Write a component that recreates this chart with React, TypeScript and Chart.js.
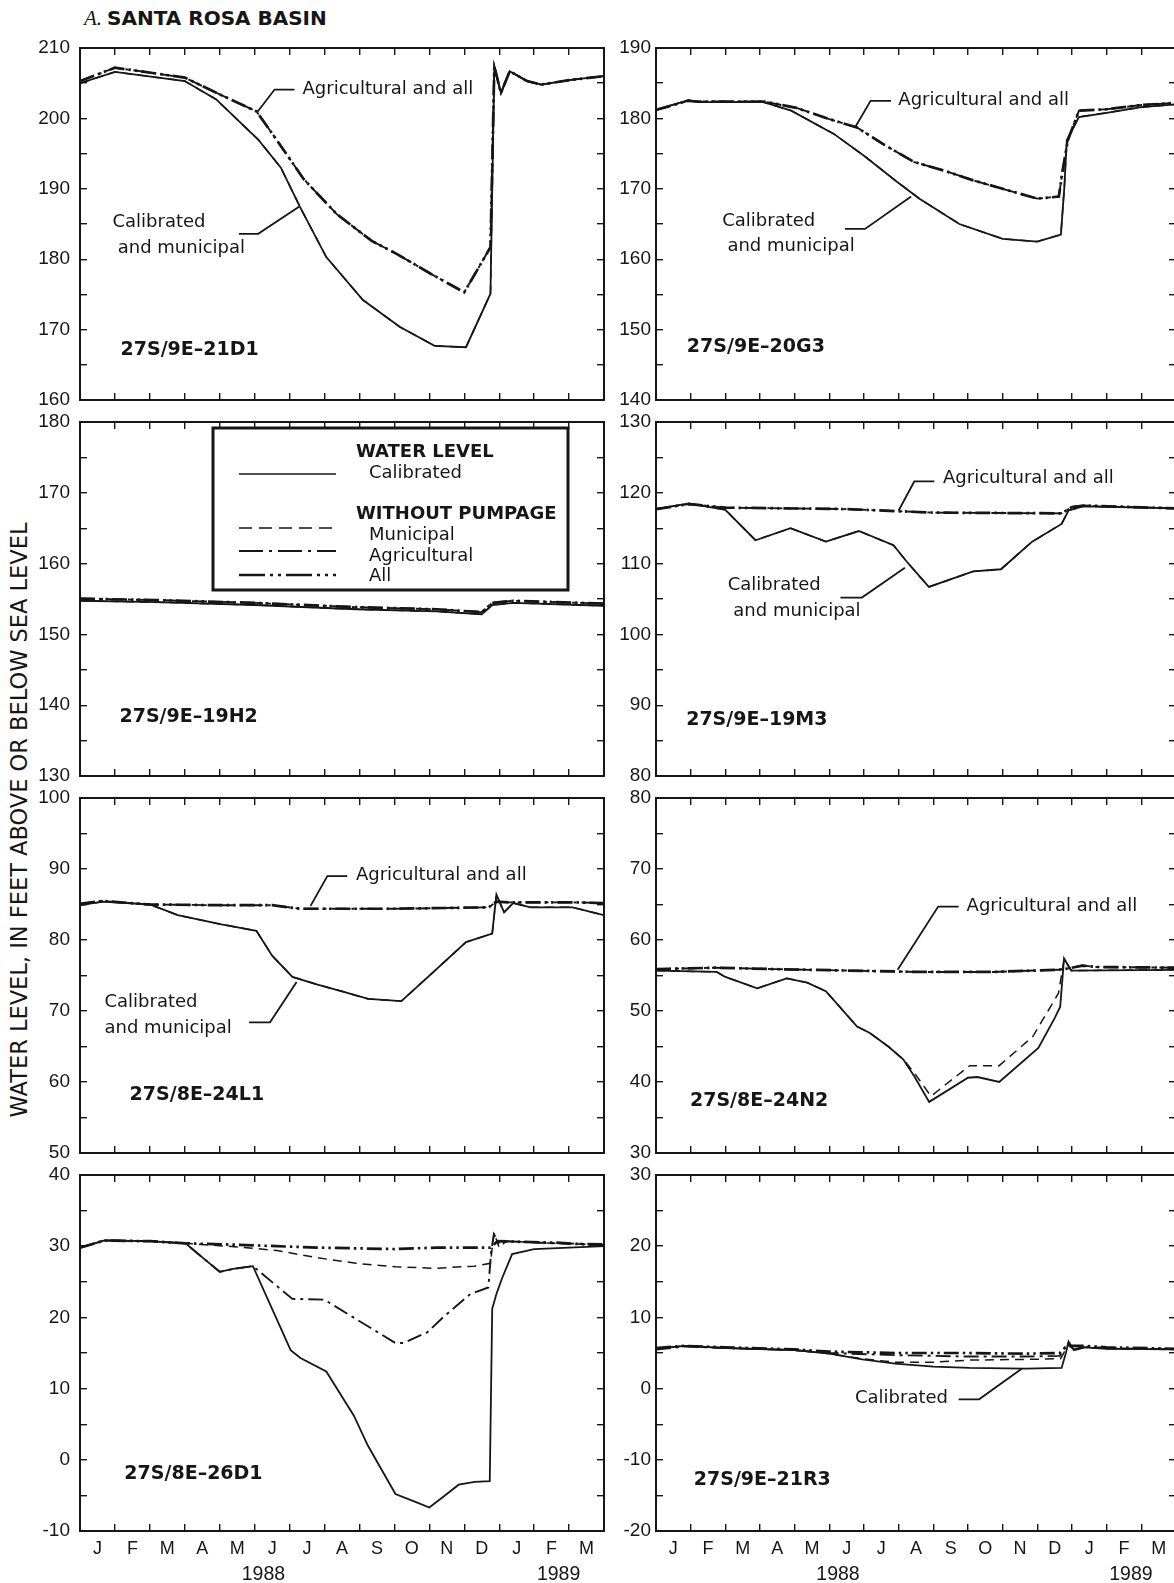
import React, { useEffect, useRef } from 'react';
import { Chart, registerables } from 'chart.js';

Chart.register(...registerables);

const INK = '#161616';
const SANS = '"DejaVu Sans", "Liberation Sans", sans-serif';
const NUM = '"Liberation Sans", Arial, sans-serif';

// ---------- axis labels ----------
const MONTHS = ['J', 'F', 'M', 'A', 'M', 'J', 'J', 'A', 'S', 'O', 'N', 'D', 'J', 'F', 'M'];
const MONTH_EDGES = [0, 1, 2, 3, 4, 5, 6, 7, 8, 9, 10, 11, 12, 13, 14, 15];
const YEARS = ['1988', '1989'];
const YEAR_AT = [5.25, 13.7];

// ---------- data (x = months since 1 Jan 1988) ----------
// 27S/9E-21D1
const T1_CAL = [0, 1, 3, 3.9, 5.1, 5.75, 6.3, 7.05, 8.1, 9.15, 10.15, 11.05, 11.75, 11.86, 12.05, 12.3, 12.8, 13.2, 14.1, 15];
const V1_CAL = [205.0, 206.6, 205.3, 202.7, 197.0, 193.0, 187.4, 180.3, 174.2, 170.4, 167.7, 167.5, 175.1, 207.4, 203.6, 206.7, 205.3, 204.8, 205.5, 206.0];
const T1_AG = [0, 1, 3, 4, 5.05, 5.65, 6.4, 7.35, 8.35, 9.05, 10.05, 11.0, 11.75, 11.86, 12.05, 12.3, 12.8, 13.2, 14.1, 15];
const V1_AG = [205.3, 207.2, 205.8, 203.4, 201.0, 196.8, 191.4, 186.4, 182.6, 180.8, 177.9, 175.3, 181.7, 207.4, 203.6, 206.7, 205.3, 204.8, 205.5, 206.0];

// 27S/9E-20G3
const T2_CAL = [0, 0.93, 1.2, 3.1, 3.9, 5.13, 6.0, 6.95, 7.6, 8.75, 10.0, 11.0, 11.68, 11.78, 11.85, 12.2, 13.0, 14.0, 15];
const V2_CAL = [181.2, 182.6, 182.3, 182.3, 181.1, 177.8, 174.7, 171.0, 168.6, 165.0, 162.9, 162.5, 163.5, 170.3, 176.9, 180.2, 180.8, 181.6, 182.0];
const T2_AG = [0, 0.93, 1.2, 3.1, 4.05, 5.0, 5.8, 6.6, 7.45, 8.3, 9.15, 10.0, 11.0, 11.62, 11.73, 11.88, 12.2, 13.0, 14.0, 15];
const V2_AG = [181.2, 182.5, 182.4, 182.4, 181.5, 179.9, 178.7, 176.2, 173.8, 172.6, 171.2, 170.0, 168.6, 168.9, 172.6, 176.9, 181.1, 181.3, 181.9, 182.2];

// 27S/9E-19H2
const T3 = [0, 2.2, 5.0, 7.9, 10.2, 11.5, 11.8, 12.4, 15];
const V3_CAL = [154.75, 154.55, 154.15, 153.55, 153.25, 152.85, 154.15, 154.45, 154.05];
const V3_AG = [155.05, 154.85, 154.45, 153.85, 153.55, 153.15, 154.45, 154.75, 154.35];

// 27S/9E-19M3
const T4_CAL = [0, 0.95, 2.0, 2.87, 3.88, 4.9, 5.85, 6.85, 7.23, 7.87, 9.15, 9.95, 10.85, 11.7, 11.9, 12.35, 15];
const V4_CAL = [117.7, 118.5, 117.6, 113.3, 115.0, 113.1, 114.6, 112.6, 110.3, 106.7, 108.9, 109.2, 113.1, 115.6, 117.5, 118.1, 117.8];
const T4_AG = [0, 0.95, 2.0, 5.5, 8.0, 11.7, 12.0, 12.35, 15];
const V4_AG = [117.7, 118.4, 117.9, 117.7, 117.2, 117.1, 118.0, 118.2, 117.8];

// 27S/8E-24L1
const T5_CAL = [0, 0.65, 2.0, 2.8, 4.05, 5.05, 5.5, 6.08, 6.75, 7.55, 8.25, 9.2, 10.05, 11.05, 11.8, 11.92, 12.14, 12.4, 12.9, 14.1, 15];
const V5_CAL = [84.9, 85.4, 85.0, 83.5, 82.2, 81.3, 77.8, 74.8, 73.8, 72.7, 71.7, 71.4, 75.2, 79.7, 80.9, 86.4, 83.9, 85.2, 84.6, 84.6, 83.5];
const T5_AG = [0, 0.65, 2.0, 4.0, 5.5, 6.3, 9.0, 11.7, 11.92, 12.3, 14.1, 15];
const V5_AG = [85.1, 85.5, 85.0, 84.9, 84.9, 84.4, 84.4, 84.6, 85.4, 85.3, 85.3, 85.2];

// 27S/8E-24N2
const T6_CAL = [0, 1.75, 2.0, 2.92, 3.77, 4.36, 4.9, 5.8, 6.17, 6.7, 7.13, 7.45, 7.88, 9.0, 9.27, 9.9, 11.03, 11.5, 11.66, 11.77, 11.98, 15];
const V6_CAL = [55.7, 55.5, 54.8, 53.2, 54.6, 54.0, 52.8, 47.8, 46.9, 45.0, 43.2, 40.8, 37.2, 40.6, 40.7, 40.0, 44.8, 49.0, 50.6, 57.4, 55.7, 55.8];
const T6_MUN = [0, 1.75, 2.0, 2.92, 3.77, 4.36, 4.9, 5.8, 6.17, 6.7, 7.13, 7.45, 7.93, 9.05, 9.9, 10.87, 11.61, 11.77, 11.98, 15];
const V6_MUN = [55.7, 55.5, 54.8, 53.2, 54.6, 54.0, 52.8, 47.8, 46.9, 45.0, 43.2, 41.3, 38.0, 42.3, 42.3, 46.4, 52.5, 57.2, 55.7, 55.8];
const T6_AG = [0, 1.7, 3.4, 5.5, 7.6, 9.7, 11.6, 11.9, 12.3, 12.7, 15];
const V6_AG = [55.9, 56.1, 55.9, 55.7, 55.5, 55.5, 55.8, 56.0, 56.4, 56.2, 56.1];

// 27S/8E-26D1
const T7_CAL = [0, 0.7, 2.0, 3.02, 4.0, 4.38, 4.95, 6.03, 6.31, 7.05, 7.84, 8.24, 9.03, 9.6, 10.0, 10.4, 10.84, 11.3, 11.73, 11.8, 11.92, 12.09, 12.37, 13.0, 14.0, 15];
const V7_CAL = [29.8, 30.8, 30.7, 30.4, 26.4, 26.8, 27.2, 15.4, 14.3, 12.4, 6.2, 2.0, -4.8, -5.9, -6.7, -5.2, -3.5, -3.1, -3.0, 21.2, 23.3, 25.6, 28.9, 29.6, 29.8, 30.0];
const T7_MUN = [0, 0.7, 2.0, 3.02, 4.5, 5.63, 6.76, 7.9, 9.03, 10.16, 11.3, 11.75, 11.85, 12.0, 12.2, 13.6, 15];
const V7_MUN = [29.8, 30.8, 30.7, 30.4, 29.9, 29.4, 28.4, 27.6, 27.1, 26.9, 27.2, 27.6, 31.9, 29.8, 30.7, 30.4, 30.2];
const T7_AG = [0, 0.7, 2.0, 3.02, 4.0, 4.38, 4.95, 6.08, 6.99, 8.46, 9.03, 9.26, 9.94, 10.39, 11.18, 11.69, 11.77, 11.85, 12.0, 12.2, 13.6, 15];
const V7_AG = [29.8, 30.8, 30.7, 30.4, 26.4, 26.8, 27.2, 22.6, 22.5, 18.1, 16.4, 16.4, 17.9, 20.0, 23.3, 24.2, 29.3, 31.7, 30.3, 30.7, 30.4, 30.3];
const T7_ALL = [0, 0.7, 2.0, 3.02, 4.5, 6.8, 9.0, 10.2, 11.75, 11.95, 13.6, 15];
const V7_ALL = [29.8, 30.8, 30.7, 30.4, 30.2, 29.8, 29.6, 29.8, 29.8, 30.7, 30.5, 30.1];

// 27S/9E-21R3
const T8_CAL = [0, 0.82, 2.0, 4.0, 5.0, 5.95, 6.9, 8.0, 9.05, 10.65, 11.7, 11.83, 11.9, 12.06, 12.36, 13.0, 15];
const V8_CAL = [5.6, 6.0, 5.7, 5.4, 4.9, 4.1, 3.5, 3.1, 2.9, 2.8, 2.9, 5.1, 6.6, 5.4, 5.8, 5.6, 5.5];
const T8_MUN = [0, 0.82, 2.0, 4.0, 5.0, 5.95, 6.9, 8.0, 9.05, 10.65, 11.67, 11.83, 11.9, 12.06, 12.36, 13.0, 15];
const V8_MUN = [5.6, 6.0, 5.7, 5.4, 4.9, 4.2, 3.7, 3.7, 4.0, 4.1, 4.2, 5.6, 6.4, 5.4, 5.8, 5.6, 5.5];
const T8_AG = [0, 0.82, 2.0, 4.0, 5.0, 6.9, 8.0, 9.05, 10.65, 11.65, 11.85, 12.06, 12.36, 13.0, 15];
const V8_AG = [5.5, 5.9, 5.7, 5.4, 5.0, 4.7, 4.6, 4.5, 4.5, 4.6, 6.3, 5.5, 5.9, 5.7, 5.5];
const T8_ALL = [0, 0.82, 2.0, 4.0, 5.0, 6.9, 9.0, 10.65, 11.65, 11.85, 12.36, 13.0, 15];
const V8_ALL = [5.7, 6.0, 5.8, 5.5, 5.2, 5.0, 5.0, 4.9, 5.0, 6.0, 6.0, 5.8, 5.6];

// ---------- layout ----------
const COLS = [
  { plotL: 80, plotR: 604, gap: 10 },
  { plotL: 656, plotR: 1176, gap: 5 },
];
const ROWS = [[48, 400], [422, 776], [798, 1153], [1175, 1531]];

type Kind = 'cal' | 'mun' | 'ag' | 'all';
const STYLE: Record<Kind, { w: number; dash: number[] }> = {
  cal: { w: 1.8, dash: [] },
  mun: { w: 1.5, dash: [9, 6] },
  ag: { w: 1.9, dash: [15, 5, 3, 5] },
  all: { w: 2.7, dash: [15, 4, 2.5, 4, 2.5, 4] },
};

type Series = { t: number[]; v: number[]; kind: Kind };
type Txt = { s: string; x: number; y: number };
type PanelCfg = {
  id: string; row: number; col: number; yMin: number; yMax: number;
  labelAt: [number, number];
  series: Series[]; texts: Txt[]; leaders: [number, number][][]; legend?: boolean;
};

const PANELS: PanelCfg[] = [
  {
    id: '27S/9E\u201321D1', row: 0, col: 0, yMin: 160, yMax: 210, labelAt: [1.16, 167.1],
    series: [
      { t: T1_CAL, v: V1_CAL, kind: 'cal' }, { t: T1_CAL, v: V1_CAL, kind: 'mun' },
      { t: T1_AG, v: V1_AG, kind: 'ag' }, { t: T1_AG, v: V1_AG, kind: 'all' },
    ],
    texts: [
      { s: 'Agricultural and all', x: 6.37, y: 204.1 },
      { s: 'Calibrated', x: 0.93, y: 185.2 },
      { s: 'and municipal', x: 1.08, y: 181.5 },
    ],
    leaders: [
      [[6.14, 204.1], [5.57, 204.1], [5.06, 200.8]],
      [[4.55, 183.6], [5.1, 183.6], [6.28, 187.5]],
    ],
  },
  {
    id: '27S/9E\u201320G3', row: 0, col: 1, yMin: 140, yMax: 190, labelAt: [0.89, 147.5],
    series: [
      { t: T2_CAL, v: V2_CAL, kind: 'cal' }, { t: T2_CAL, v: V2_CAL, kind: 'mun' },
      { t: T2_AG, v: V2_AG, kind: 'ag' }, { t: T2_AG, v: V2_AG, kind: 'all' },
    ],
    texts: [
      { s: 'Agricultural and all', x: 6.99, y: 182.5 },
      { s: 'Calibrated', x: 1.91, y: 165.4 },
      { s: 'and municipal', x: 2.06, y: 161.8 },
    ],
    leaders: [
      [[6.78, 182.5], [6.19, 182.5], [5.74, 178.7]],
      [[5.45, 164.3], [6.03, 164.3], [7.36, 168.9]],
    ],
  },
  {
    id: '27S/9E\u201319H2', row: 1, col: 0, yMin: 130, yMax: 180, labelAt: [1.13, 138.3],
    series: [
      { t: T3, v: V3_CAL, kind: 'cal' }, { t: T3, v: V3_CAL, kind: 'mun' },
      { t: T3, v: V3_AG, kind: 'ag' }, { t: T3, v: V3_AG, kind: 'all' },
    ],
    texts: [], leaders: [], legend: true,
  },
  {
    id: '27S/9E\u201319M3', row: 1, col: 1, yMin: 80, yMax: 130, labelAt: [0.87, 87.9],
    series: [
      { t: T4_CAL, v: V4_CAL, kind: 'cal' }, { t: T4_CAL, v: V4_CAL, kind: 'mun' },
      { t: T4_AG, v: V4_AG, kind: 'ag' }, { t: T4_AG, v: V4_AG, kind: 'all' },
    ],
    texts: [
      { s: 'Agricultural and all', x: 8.28, y: 122.0 },
      { s: 'Calibrated', x: 2.07, y: 106.9 },
      { s: 'and municipal', x: 2.23, y: 103.3 },
    ],
    leaders: [
      [[8.03, 121.6], [7.45, 121.6], [7.0, 117.5]],
      [[5.32, 105.2], [5.94, 105.2], [7.18, 109.4]],
    ],
  },
  {
    id: '27S/8E\u201324L1', row: 2, col: 0, yMin: 50, yMax: 100, labelAt: [1.42, 58.2],
    series: [
      { t: T5_CAL, v: V5_CAL, kind: 'cal' }, { t: T5_CAL, v: V5_CAL, kind: 'mun' },
      { t: T5_AG, v: V5_AG, kind: 'ag' }, { t: T5_AG, v: V5_AG, kind: 'all' },
    ],
    texts: [
      { s: 'Agricultural and all', x: 7.9, y: 89.1 },
      { s: 'Calibrated', x: 0.7, y: 71.2 },
      { s: 'and municipal', x: 0.7, y: 67.5 },
    ],
    leaders: [
      [[7.65, 89.0], [7.08, 89.0], [6.6, 84.8]],
      [[4.84, 68.4], [5.44, 68.4], [6.2, 74.1]],
    ],
  },
  {
    id: '27S/8E\u201324N2', row: 2, col: 1, yMin: 30, yMax: 80, labelAt: [0.98, 37.3],
    series: [
      { t: T6_CAL, v: V6_CAL, kind: 'cal' }, { t: T6_MUN, v: V6_MUN, kind: 'mun' },
      { t: T6_AG, v: V6_AG, kind: 'ag' }, { t: T6_AG, v: V6_AG, kind: 'all' },
    ],
    texts: [{ s: 'Agricultural and all', x: 8.96, y: 64.7 }],
    leaders: [[[8.73, 64.7], [8.14, 64.7], [6.97, 55.8]]],
  },
  {
    id: '27S/8E\u201326D1', row: 3, col: 0, yMin: -10, yMax: 40, labelAt: [1.27, -2.0],
    series: [
      { t: T7_CAL, v: V7_CAL, kind: 'cal' }, { t: T7_MUN, v: V7_MUN, kind: 'mun' },
      { t: T7_AG, v: V7_AG, kind: 'ag' }, { t: T7_ALL, v: V7_ALL, kind: 'all' },
    ],
    texts: [], leaders: [],
  },
  {
    id: '27S/9E\u201321R3', row: 3, col: 1, yMin: -20, yMax: 30, labelAt: [1.09, -12.85],
    series: [
      { t: T8_CAL, v: V8_CAL, kind: 'cal' }, { t: T8_MUN, v: V8_MUN, kind: 'mun' },
      { t: T8_AG, v: V8_AG, kind: 'ag' }, { t: T8_ALL, v: V8_ALL, kind: 'all' },
    ],
    texts: [{ s: 'Calibrated', x: 5.74, y: -1.3 }],
    leaders: [[[8.73, -1.5], [9.32, -1.5], [10.55, 2.8]]],
  },
];

function drawLegend(ctx: CanvasRenderingContext2D, ca: { left: number; top: number }) {
  const X = (px: number) => ca.left + (px - 80);
  const Y = (py: number) => ca.top + (py - 422);
  ctx.save();
  ctx.fillStyle = '#fff';
  ctx.fillRect(X(213), Y(428), 355, 162);
  ctx.strokeStyle = INK;
  ctx.lineWidth = 3;
  ctx.setLineDash([]);
  ctx.strokeRect(X(213), Y(428), 355, 162);
  ctx.fillStyle = INK;
  ctx.textBaseline = 'middle';
  ctx.textAlign = 'left';
  ctx.font = `bold 18px ${SANS}`;
  ctx.fillText('WATER LEVEL', X(356), Y(452));
  ctx.fillText('WITHOUT PUMPAGE', X(356), Y(514));
  ctx.font = `18px ${SANS}`;
  ctx.fillText('Calibrated', X(369), Y(473));
  ctx.fillText('Municipal', X(369), Y(535));
  ctx.fillText('Agricultural', X(369), Y(556));
  ctx.fillText('All', X(369), Y(576));
  const sample = (y: number, w: number, dash: number[]) => {
    ctx.lineWidth = w;
    ctx.setLineDash(dash);
    ctx.beginPath();
    ctx.moveTo(X(239), Y(y));
    ctx.lineTo(X(336), Y(y));
    ctx.stroke();
  };
  sample(474, 1.7, []);
  sample(528, 1.5, [13, 7]);
  sample(551, 1.8, [24, 6, 3, 6]);
  sample(575, 2.6, [26, 5, 3, 5, 3, 5]);
  ctx.restore();
}

function Panel({ cfg }: { cfg: PanelCfg }) {
  const ref = useRef<HTMLCanvasElement>(null);
  const col = COLS[cfg.col];
  const [top, bottom] = ROWS[cfg.row];
  const isBottom = cfg.row === 3;
  const padL = 70, padT = 34, padR = 10, padB = isBottom ? 10 : 34;
  const axisBottom = isBottom ? 60 : 0;
  const w = col.plotR - col.plotL + padL + padR;
  const h = bottom - top + padT + axisBottom + padB;

  useEffect(() => {
    const yTicks: { value: number }[] = [];
    for (let v = cfg.yMin; v <= cfg.yMax; v += 5) yTicks.push({ value: v });
    const grid = { drawOnChartArea: false, drawTicks: true, tickLength: -7, color: INK, lineWidth: 1.4 };
    const border = { display: true, color: INK, width: 2 };
    const notes = {
      id: 'notes',
      afterDatasetsDraw(chart: any) {
        const ctx: CanvasRenderingContext2D = chart.ctx;
        const xs = chart.scales.x, ys = chart.scales.y;
        ctx.save();
        ctx.strokeStyle = INK;
        ctx.fillStyle = INK;
        ctx.lineWidth = 1.8;
        ctx.setLineDash([]);
        for (const lead of cfg.leaders) {
          ctx.beginPath();
          lead.forEach(([a, b], i) => {
            const px = xs.getPixelForValue(a), py = ys.getPixelForValue(b);
            if (i === 0) ctx.moveTo(px, py); else ctx.lineTo(px, py);
          });
          ctx.stroke();
        }
        ctx.textBaseline = 'middle';
        ctx.textAlign = 'left';
        ctx.font = `18px ${SANS}`;
        for (const t of cfg.texts) ctx.fillText(t.s, xs.getPixelForValue(t.x), ys.getPixelForValue(t.y));
        ctx.font = `bold 19px ${SANS}`;
        ctx.fillText(cfg.id, xs.getPixelForValue(cfg.labelAt[0]), ys.getPixelForValue(cfg.labelAt[1]));
        if (cfg.legend) drawLegend(ctx, chart.chartArea);
        ctx.restore();
      },
    };
    const chart = new Chart(ref.current as HTMLCanvasElement, {
      type: 'line',
      data: {
        datasets: cfg.series.map((s) => ({
          data: s.t.map((t, i) => ({ x: t, y: s.v[i] })),
          borderColor: INK,
          borderWidth: STYLE[s.kind].w,
          borderDash: STYLE[s.kind].dash,
          pointRadius: 0,
          tension: 0,
          fill: false,
          xAxisID: 'x',
          yAxisID: 'y',
        })),
      },
      options: {
        animation: false,
        responsive: false,
        maintainAspectRatio: false,
        devicePixelRatio: 1,
        events: [],
        layout: { padding: { left: 0, top: padT, right: padR, bottom: padB } },
        plugins: { legend: { display: false }, tooltip: { enabled: false } },
        scales: {
          x: {
            type: 'linear', position: 'bottom', min: 0, max: 15,
            afterBuildTicks: (s: any) => { s.ticks = MONTH_EDGES.map((v) => ({ value: v })); },
            ticks: { display: false },
            grid, border,
            afterFit: (s: any) => { s.height = 0; },
          },
          xTop: {
            type: 'linear', position: 'top', min: 0, max: 15,
            afterBuildTicks: (s: any) => { s.ticks = MONTH_EDGES.map((v) => ({ value: v })); },
            ticks: { display: false },
            grid, border,
            afterFit: (s: any) => { s.height = 0; },
          },
          xMonth: {
            type: 'linear', position: 'bottom', min: 0, max: 15, display: isBottom,
            afterBuildTicks: (s: any) => { s.ticks = MONTHS.map((_m, i) => ({ value: i + 0.5 })); },
            ticks: {
              autoSkip: false, maxRotation: 0, padding: 7, color: INK,
              font: { family: NUM, size: 18 },
              callback: (_v: any, i: number) => MONTHS[i],
            },
            grid: { display: false, drawTicks: false },
            border: { display: false },
            afterFit: (s: any) => { s.height = isBottom ? 26 : 0; },
          },
          xYear: {
            type: 'linear', position: 'bottom', min: 0, max: 15, display: isBottom,
            afterBuildTicks: (s: any) => { s.ticks = YEAR_AT.map((v) => ({ value: v })); },
            ticks: {
              autoSkip: false, maxRotation: 0, padding: 6, color: INK,
              font: { family: NUM, size: 19.5 },
              callback: (_v: any, i: number) => YEARS[i],
            },
            grid: { display: false, drawTicks: false },
            border: { display: false },
            afterFit: (s: any) => { s.height = isBottom ? 34 : 0; },
          },
          y: {
            type: 'linear', position: 'left', min: cfg.yMin, max: cfg.yMax,
            afterBuildTicks: (s: any) => { s.ticks = yTicks.map((t) => ({ ...t })); },
            ticks: {
              autoSkip: false, padding: 7 + col.gap, color: INK,
              font: { family: NUM, size: 19 },
              callback: (v: any) => (Number(v) % 10 === 0 ? String(v) : ''),
            },
            grid, border,
            afterFit: (s: any) => { s.width = padL; },
          },
          yRight: {
            type: 'linear', position: 'right', min: cfg.yMin, max: cfg.yMax,
            afterBuildTicks: (s: any) => { s.ticks = yTicks.map((t) => ({ ...t })); },
            ticks: { display: false },
            grid, border,
            afterFit: (s: any) => { s.width = 0; },
          },
        },
      } as any,
      plugins: [notes],
    });
    return () => chart.destroy();
  }, []);

  return (
    <canvas
      ref={ref}
      width={w}
      height={h}
      style={{ position: 'absolute', left: col.plotL - padL, top: top - padT, width: w, height: h }}
    />
  );
}

export default function App() {
  return (
    <div style={{ position: 'absolute', left: 0, top: 0, width: 1174, height: 1583, overflow: 'hidden', background: '#fff', color: INK }}>
      <div style={{ position: 'absolute', left: 84, top: 6, fontSize: 20, lineHeight: '24px', whiteSpace: 'nowrap' }}>
        <span style={{ fontFamily: '"Liberation Serif", serif', fontStyle: 'italic', fontSize: 21 }}>A.</span>
        <span style={{ fontFamily: SANS, fontWeight: 'bold', marginLeft: 5 }}>SANTA ROSA BASIN</span>
      </div>
      <div
        style={{
          position: 'absolute', left: 19 - 400, top: 820 - 13, width: 800, height: 26, lineHeight: '26px',
          textAlign: 'center', fontFamily: SANS, fontSize: 22.5, transform: 'rotate(-90deg)', whiteSpace: 'nowrap',
        }}
      >
        WATER LEVEL, IN FEET ABOVE OR BELOW SEA LEVEL
      </div>
      {PANELS.map((p) => (
        <Panel key={p.id} cfg={p} />
      ))}
    </div>
  );
}
